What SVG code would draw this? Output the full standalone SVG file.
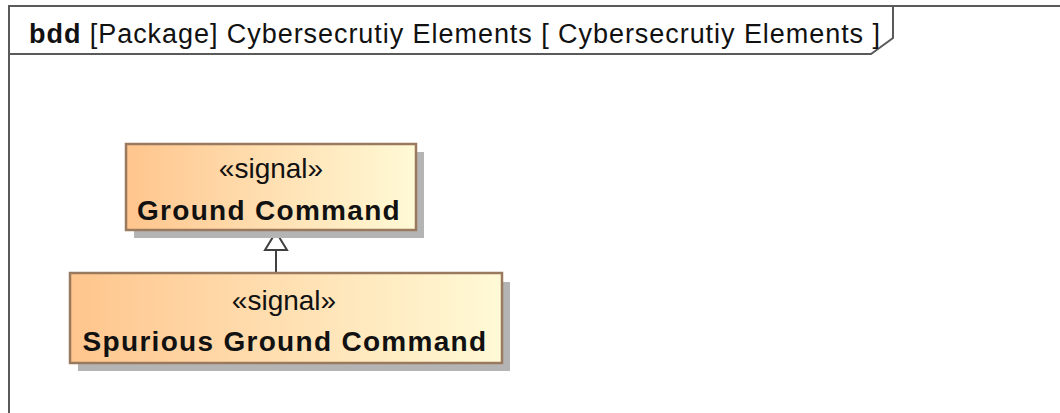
<svg xmlns="http://www.w3.org/2000/svg" width="1060" height="413" viewBox="0 0 1060 413">
<defs>
<linearGradient id="fill" x1="0" y1="0" x2="1" y2="0">
<stop offset="0" stop-color="#FFC58D"/>
<stop offset="1" stop-color="#FFFAD6"/>
</linearGradient>
</defs>
<style>
.frame{fill:none;stroke:#5a5a5a;stroke-width:2}
.shadow{fill:#b4b4b4}
.box{fill:url(#fill);stroke:#9a7a5e;stroke-width:2.5}
.st{font-family:"Liberation Sans",Arial,sans-serif;font-size:28px;fill:#111;text-anchor:middle}
.nm{font-family:"Liberation Sans",Arial,sans-serif;font-size:28px;font-weight:bold;fill:#111;text-anchor:middle;letter-spacing:1.3px}
.title{font-family:"Liberation Sans",Arial,sans-serif;font-size:27px;fill:#111}
.conn{fill:none;stroke:#404040;stroke-width:2}
.head{fill:#fff;stroke:#404040;stroke-width:2}
</style>
<rect width="1060" height="413" fill="#fff"/>
<g id="frame">
<path class="frame" d="M9,413 L9,6 L1062,6"/>
<path class="frame" d="M9,54 L871,54 L893,38 L893,6"/>
<text class="title" x="29" y="43" textLength="851" lengthAdjust="spacing"><tspan font-weight="bold">bdd</tspan>  [Package] Cybersecrutiy Elements [ Cybersecrutiy Elements ]</text>
</g>
<g id="connectors">
<line class="conn" x1="276" y1="273" x2="276" y2="250"/>
<path class="head" d="M276,232 L287,250 L265,250 Z"/>
</g>
<g id="ground-command">
<rect class="shadow" x="134" y="152" width="290" height="86"/>
<rect class="box" x="126" y="144" width="290" height="86"/>
<text class="st" x="271" y="178">«signal»</text>
<text class="nm" x="269" y="220">Ground Command</text>
</g>
<g id="spurious-ground-command">
<rect class="shadow" x="78" y="282" width="432" height="89"/>
<rect class="box" x="70" y="273" width="432" height="90"/>
<text class="st" x="284" y="310">«signal»</text>
<text class="nm" x="285" y="351">Spurious Ground Command</text>
</g>
</svg>
